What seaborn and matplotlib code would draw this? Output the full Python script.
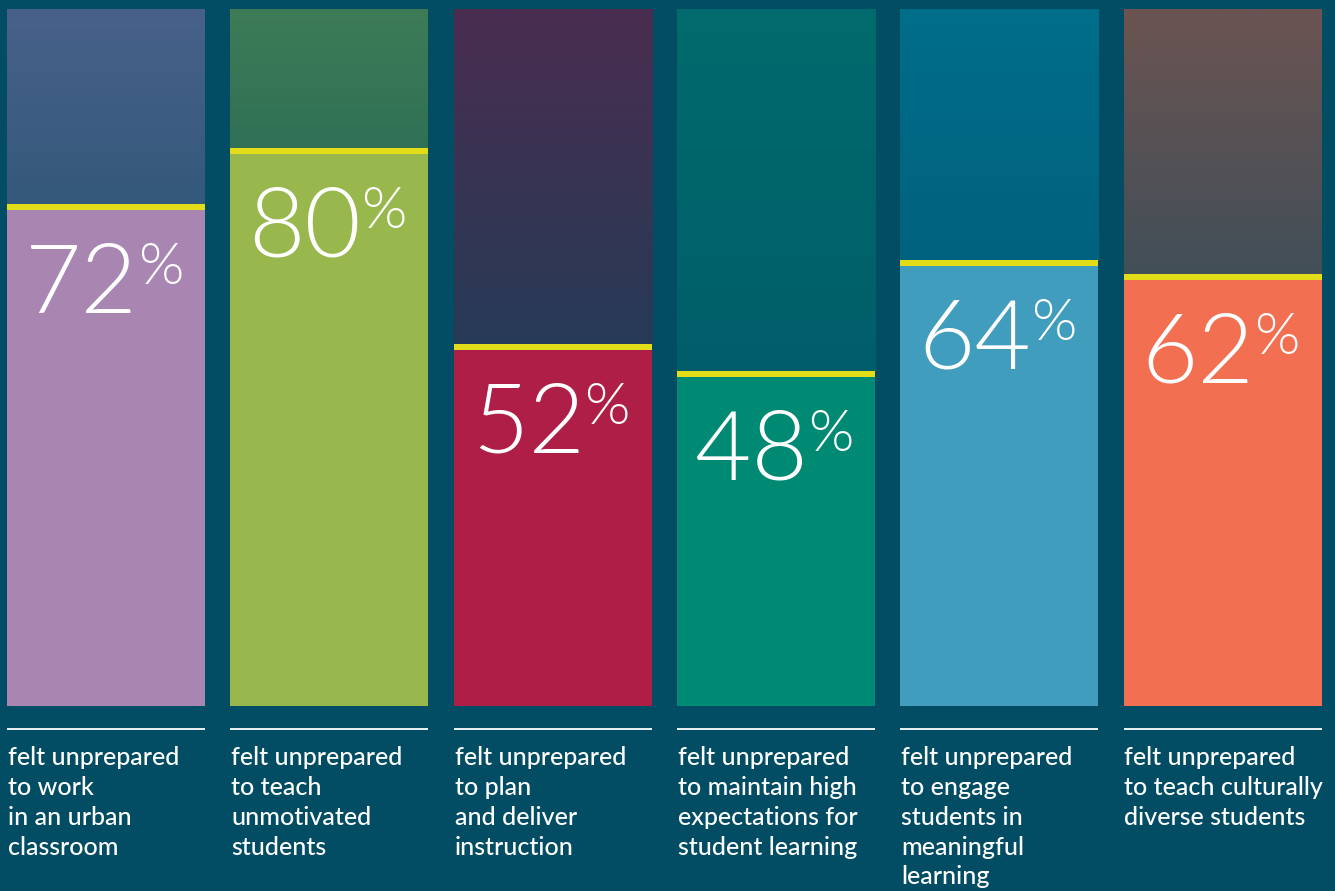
import os
import numpy as np
import pandas as pd
import matplotlib
matplotlib.use("Agg")
import matplotlib.pyplot as plt
from matplotlib import font_manager as fm
from matplotlib.colors import LinearSegmentedColormap
import seaborn as sns

# ---- data ----
categories = ["urban", "unmotivated", "plan", "expectations", "engage", "diverse"]
values = [72, 80, 52, 48, 64, 62]
labels = [
    "felt unprepared\nto work\nin an urban\nclassroom",
    "felt unprepared\nto teach\nunmotivated\nstudents",
    "felt unprepared\nto plan\nand deliver\ninstruction",
    "felt unprepared\nto maintain high\nexpectations for\nstudent learning",
    "felt unprepared\nto engage\nstudents in\nmeaningful\nlearning",
    "felt unprepared\nto teach culturally\ndiverse students",
]
fill_colors = ["#A986B2", "#98B84E", "#AE1E46", "#008A73", "#409DBD", "#F26F51"]
top_colors = ["#48618A", "#3E7C57", "#4A2D50", "#006B6D", "#016E8A", "#6B5452"]
low_colors = ["#34597A", "#307055", "#263A56", "#005E6A", "#00627E", "#424F58"]

BG = "#024D64"
YELLOW = "#E2DD18"


def find_light_font():
    files = fm.findSystemFonts()
    for fam in ["Lato", "Roboto", "OpenSans", "Open Sans", "Inter"]:
        for f in files:
            b = os.path.basename(f)
            bl = b.lower()
            if fam.lower().replace(" ", "") in bl.replace(" ", "").replace("-", "") \
                    and "light" in bl and "italic" not in bl and "extra" not in bl \
                    and "ultra" not in bl and "semi" not in bl:
                return fm.FontProperties(fname=f)
    return fm.FontProperties(family="Lato", weight="light")


big_font = find_light_font()

W, H, DPI = 1335, 891, 100
fig = plt.figure(figsize=(W / DPI, H / DPI), dpi=DPI, facecolor=BG)

top_px, bot_px = 9, 706
ax = fig.add_axes([0, (H - bot_px) / H, 1, (bot_px - top_px) / H])
ax.set_facecolor(BG)
pitch = 223.3
c0 = 106
bw = 198 / pitch
py = 100 / (bot_px - top_px)  # data units per pixel

df = pd.DataFrame({"cat": categories, "val": values, "full": [100] * 6})

# full-height background bars
sns.barplot(data=df, x="cat", y="full", hue="cat", palette=top_colors,
            width=bw, ax=ax, legend=False, saturation=1, zorder=1)
# gradient overlay for the top part
for i, (v, tc, lc) in enumerate(zip(values, top_colors, low_colors)):
    cmap = LinearSegmentedColormap.from_list(f"g{i}", [lc, tc])
    grad = np.linspace(0, 1, 256).reshape(-1, 1)
    ax.imshow(grad, cmap=cmap, extent=[i - bw / 2, i + bw / 2, v, 100],
              origin="lower", aspect="auto", zorder=2, interpolation="bilinear")

# value bars
n_before = len(ax.patches)
sns.barplot(data=df, x="cat", y="val", hue="cat", palette=fill_colors,
            width=bw, ax=ax, legend=False, saturation=1, zorder=3)
for p in ax.patches[n_before:]:
    p.set_zorder(3)

# yellow marker lines
for i, v in enumerate(values):
    ax.hlines(v - 3 * py, i - bw / 2, i + bw / 2, color=YELLOW,
              linewidth=6 * 72 / DPI, zorder=4)

# big numbers
for i, v in enumerate(values):
    ytop = v - 38 * py
    ax.text(i + 32 / pitch, ytop, f"{v}", ha="right", va="top",
            fontproperties=big_font, fontsize=70, color="white", zorder=5)
    ax.text(i + 32 / pitch, ytop - 1 * py, "%", ha="left", va="top",
            fontproperties=big_font, fontsize=42, color="white", zorder=5)

# rules and labels below
for i, lab in enumerate(labels):
    x0 = i - bw / 2
    ax.plot([x0, i + bw / 2], [-(729 - bot_px) * py] * 2, color="white",
            linewidth=1.3, clip_on=False, solid_capstyle="butt")
    ax.text(x0 + 1 / pitch, -(746 - bot_px) * py, lab, ha="left", va="top",
            fontsize=18, family="Lato", fontweight="medium", color="white",
            linespacing=1.36, clip_on=False)

ax.set_xlim(-c0 / pitch, (W - c0) / pitch)
ax.set_ylim(0, 100)
ax.axis("off")

fig.savefig("out.png", dpi=DPI, facecolor=BG)
